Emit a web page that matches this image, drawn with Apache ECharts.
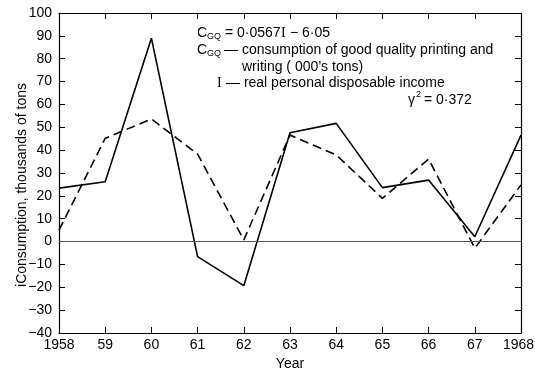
<!DOCTYPE html>
<html>
<head>
<meta charset="utf-8">
<script src="https://cdn.jsdelivr.net/npm/echarts@6/dist/echarts.min.js"></script>
<style>html,body{margin:0;padding:0;background:#fff;}#c{width:535px;height:372px;}</style>
</head>
<body>
<div id="c"></div>
<script>
var years = [1958, 1959, 1960, 1961, 1962, 1963, 1964, 1965, 1966, 1967, 1968];
var actual = [23.4, 26.2, 89, -6.6, -19.3, 47.6, 51.7, 23.6, 26.9, 2.1, 46.6];
var estimated = [5, 45.2, 53.6, 38.3, 0.7, 46.6, 37.9, 18.9, 36.1, -2.9, 24.8];
var yTicks = [-40, -30, -20, -10, 0, 10, 20, 30, 40, 50, 60, 70, 80, 90, 100];

var FONT = '"Liberation Sans", Arial, sans-serif';
var SERIF = '"Liberation Serif", "Times New Roman", serif';
var chart = echarts.init(document.getElementById('c'), null, {renderer: 'canvas'});

function pairs(vals) { return years.map(function (y, i) { return [y, vals[i]]; }); }

var frame = {show: true, onZero: false, lineStyle: {color: '#000', width: 1.2}};
var ticks = {show: true, inside: true, length: 6, lineStyle: {color: '#000', width: 1}};

function t(x, y, text, size, font) {
  return {type: 'text', x: x, y: y, z: 100,
    style: {text: text, fontSize: size || 14, fontFamily: font || FONT, fill: '#000',
      textAlign: 'left', textVerticalAlign: 'middle'}};
}

chart.setOption({
  animation: false,
  backgroundColor: '#fff',
  grid: {left: 59, right: 14, top: 13, bottom: 39, containLabel: false, outerBoundsMode: 'none'},
  xAxis: [{
    type: 'value', min: years[0], max: years[years.length - 1], interval: 1,
    name: 'Year', nameLocation: 'middle', nameGap: 23,
    nameTextStyle: {fontSize: 14, fontFamily: FONT, color: '#000'},
    axisLine: frame, axisTick: ticks, splitLine: {show: false},
    axisLabel: {fontSize: 14, fontFamily: FONT, color: '#000', margin: 5,
      rich: {r: {fontSize: 14, fontFamily: FONT, color: '#000', padding: [0, 5, 0, 0]}},
      formatter: function (v) {
        if (v === years[years.length - 1]) return '{r|' + v + '}';
        return v === years[0] ? String(v) : String(v).slice(2);
      }}
  }, {
    type: 'value', position: 'top', min: years[0], max: years[years.length - 1], interval: 1,
    axisLine: frame, axisTick: ticks, axisLabel: {show: false}, splitLine: {show: false}
  }],
  yAxis: [{
    type: 'value', min: yTicks[0], max: yTicks[yTicks.length - 1], interval: 10,
    axisLine: frame, axisTick: ticks, splitLine: {show: false},
    axisLabel: {fontSize: 14, fontFamily: FONT, color: '#000', margin: 7,
      formatter: function (v) { return String(v).replace('-', '\u2212'); }}
  }, {
    type: 'value', position: 'right', min: yTicks[0], max: yTicks[yTicks.length - 1], interval: 10,
    axisLine: frame, axisTick: ticks, axisLabel: {show: false}, splitLine: {show: false}
  }],
  series: [{
    type: 'line', data: pairs(actual), symbol: 'none', z: 3,
    lineStyle: {color: '#000', width: 1.6},
    markLine: {silent: true, symbol: 'none', label: {show: false},
      lineStyle: {color: '#555', width: 1.2, type: 'solid'},
      data: [{yAxis: 0}]}
  }, {
    type: 'line', data: pairs(estimated), symbol: 'none', z: 3,
    lineStyle: {color: '#000', width: 1.6, type: [9, 5]}
  }],
  graphic: [
    {type: 'text', x: 22, y: 185, rotation: Math.PI / 2, z: 100,
      style: {text: 'iConsumption, thousands of tons', fontSize: 14, fontFamily: FONT, fill: '#000',
        textAlign: 'center', textVerticalAlign: 'middle'}},
    t(197, 33, 'C'),
    t(207, 37, 'GQ', 9),
    t(225, 33, '= 0\u00b70567'),
    t(281, 33, 'I', 14, SERIF),
    t(290, 33, '\u2212 6\u00b705'),
    t(197, 50, 'C'),
    t(207, 54, 'GQ', 9),
    t(224, 50, '\u2014 consumption of good quality printing and'),
    t(242, 67, 'writing ( 000\u2019s tons)'),
    t(217, 83, 'I', 14, SERIF),
    t(226, 83, '\u2014 real personal disposable income'),
    t(408, 100, '\u03b3', 14),
    t(416, 95, '2', 9),
    t(424, 100, '= 0\u00b7372')
  ]
});
</script>
</body>
</html>
